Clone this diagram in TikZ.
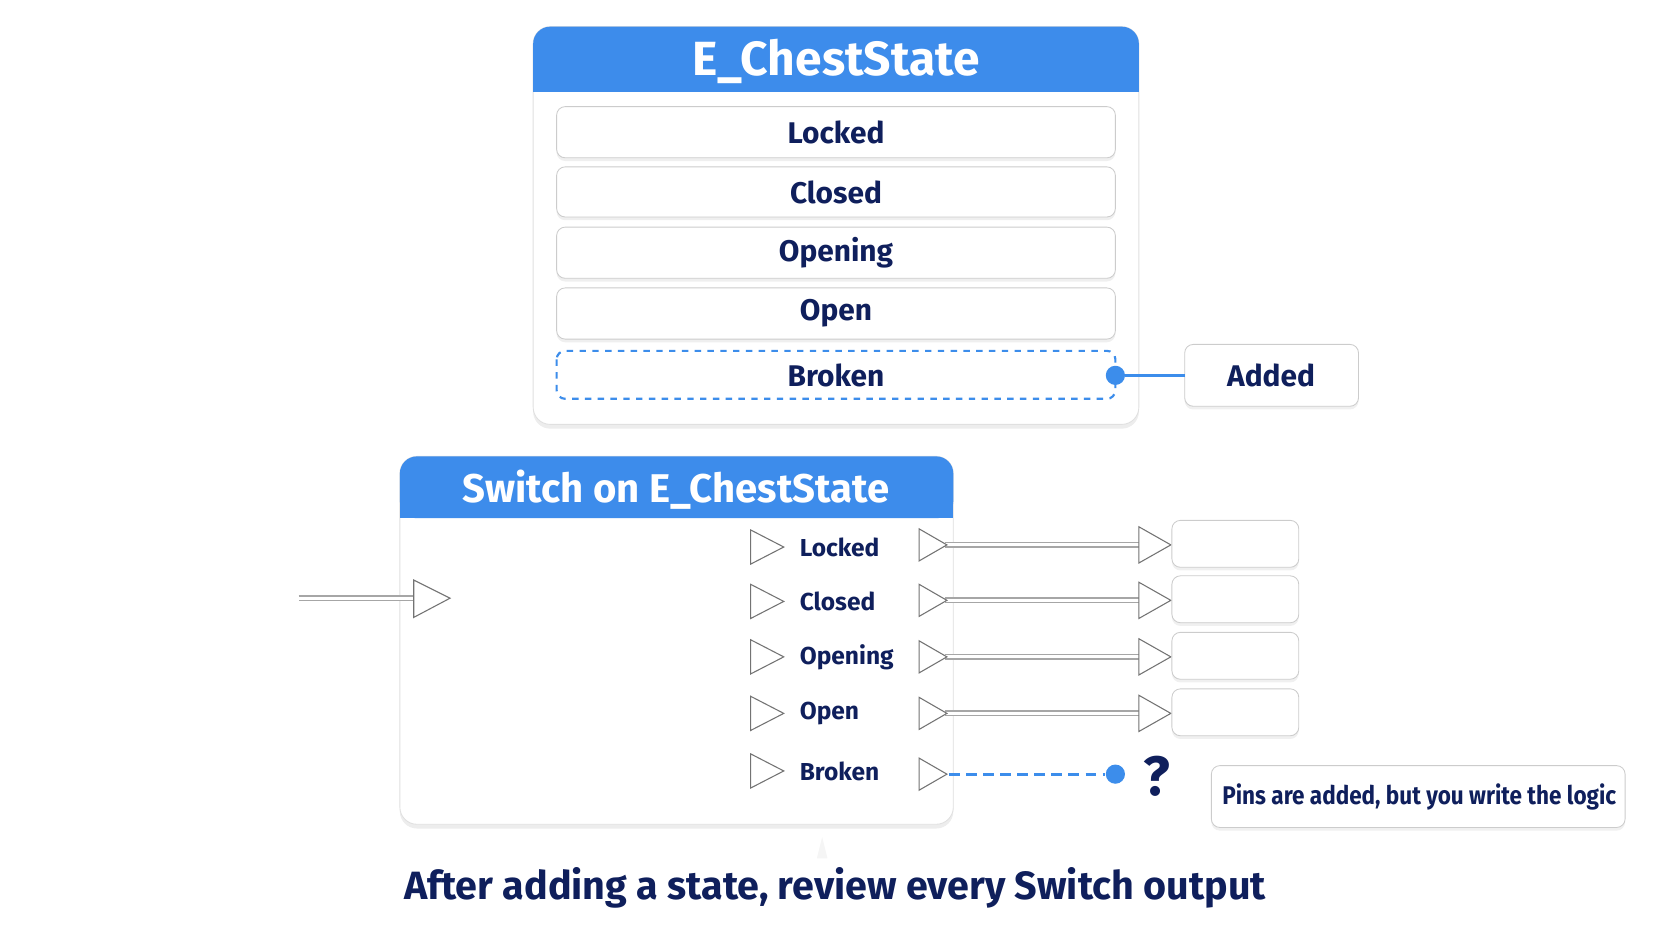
\documentclass[tikz,border=0pt]{standalone}
\usepackage{fontspec}
\setmainfont{Fira Sans}
\usetikzlibrary{shadows,arrows.meta}
\definecolor{navy}{HTML}{0F1F5C}
\definecolor{hblue}{HTML}{3D8CEB}
\definecolor{dblue}{HTML}{3C8DEB}
\begin{document}
\begin{tikzpicture}[x=0.5pt,y=-0.5pt,
  card/.style={draw=black!12,fill=white,rounded corners=8pt,drop shadow={shadow xshift=0pt,shadow yshift=-2pt,opacity=0.18,fill=black!40}},
  hdr/.style={fill=hblue,rounded corners=8pt},
  row/.style={draw=black!20,fill=white,rounded corners=4pt,drop shadow={shadow xshift=0pt,shadow yshift=-1.5pt,opacity=0.12}},
  rowtxt/.style={text=navy,font=\bfseries\fontsize{14}{16}\selectfont},
  pintxt/.style={text=navy,font=\bfseries\fontsize{11.5}{13}\selectfont,anchor=west},
  pin/.style={draw=black!55,fill=white,line width=0.5pt},
  wire/.style={draw=black!35,double=white,double distance=1.5pt,line width=0.6pt},
  dot/.style={circle,fill=dblue,inner sep=0pt,minimum size=9pt}]
\useasboundingbox (0,0) rectangle (1568,882);
% top card
\path[card] (500,25) rectangle (1068,398);
\path[hdr] (500,25) rectangle (1068,86);
\fill[hblue] (500,70) rectangle (1068,86);
\node[text=white,font=\bfseries\fontsize{22.5}{26}\selectfont] (t1) at (784,58) {E\_ChestState};
\foreach \n/\y/\h in {Locked/124/48,Closed/180/47,Opening/237/48,Open/294/48}{
  \path[row] (522,\y-\h/2) rectangle (1046,\y+\h/2);
  \node[rowtxt] (r\n) at (784,\y) {\n};
}
\draw[dblue,dashed,line width=1pt,rounded corners=4pt,fill=white] (522,329) rectangle (1046,374);
\node[rowtxt] (rBroken) at (784,352) {Broken};
\node[dot] (d1) at (1046,352) {};
\path[row] (1111,323) rectangle (1274,381);
\node[rowtxt] (added) at (1192,352) {Added};
\coordinate (addedW) at (1111,352);
\draw[dblue,line width=1.5pt] (d1) -- (addedW);
% switch card
\path[card] (375,428) rectangle (894,773);
\path[hdr] (375,428) rectangle (894,486);
\fill[hblue] (375,470) rectangle (894,486);
\node[text=white,font=\bfseries\fontsize{18.8}{22}\selectfont] (t2) at (634,459) {Switch on E\_ChestState};
% exec in
\coordinate (ein) at (280,561);
\coordinate (eintip) at (390,561);
\draw[wire] (ein) -- (eintip);
\draw[pin] (388,544) -- (422,561) -- (388,579) -- cycle;
% pins
\foreach \n/\y in {Locked/513,Closed/564,Opening/616,Open/669,Broken/723}{
  \draw[pin] (704,\y-16) -- (735,\y) -- (704,\y+16) -- cycle;
  \node[pintxt] (p\n) at (743,\y) {\n};
}
\foreach \n/\y/\i in {Locked/511/1,Closed/563/2,Opening/616/3,Open/669/4}{
  \coordinate (o\i) at (886,\y);
  \coordinate (b\i) at (1070,\y);
  \draw[wire] (o\i) -- (b\i);
  \draw[pin] (862,\y-15) -- (888,\y) -- (862,\y+15) -- cycle;
  \draw[pin] (1068,\y-17) -- (1098,\y) -- (1068,\y+17) -- cycle;
  \path[row] (1099,\y-23) rectangle (1218,\y+21);
}
\draw[pin] (862,711) -- (888,726) -- (862,741) -- cycle;
\coordinate (o5) at (890,726);
\node[dot] (d2) at (1046,726) {};
\draw[dblue,dashed,dash pattern=on 5pt off 3pt,line width=1.3pt] (o5) -- (d2);
\node[text=navy,font=\bfseries\fontsize{26}{28}\selectfont] (q) at (1085,728) {?};
% note
\path[row] (1136,718) rectangle (1524,776);
\node[text=navy,font=\bfseries\fontsize{12}{14}\selectfont] (note) at (1331,747) {\scalebox{0.88}[1]{Pins are added, but you write the logic}};
% caption
\fill[black!4] (766,805) -- (771,785) -- (776,805) -- cycle;
\node[text=navy,font=\bfseries\fontsize{18.5}{22}\selectfont] (cap) at (783,833) {After adding a state, review every Switch output};
\end{tikzpicture}
\end{document}
